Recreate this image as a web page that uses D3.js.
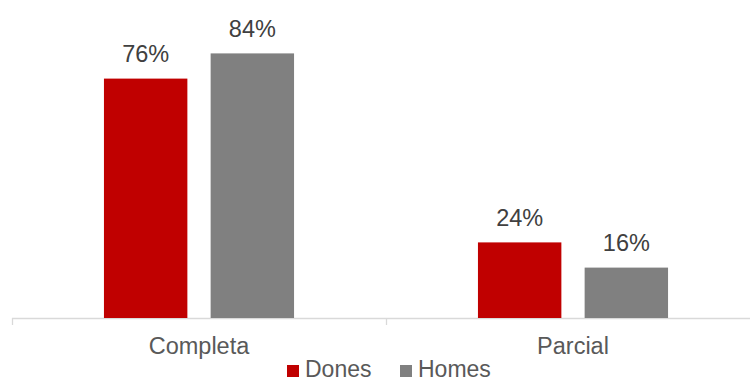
<!DOCTYPE html>
<html>
<head>
<meta charset="utf-8">
<script src="https://cdn.jsdelivr.net/npm/d3@7/dist/d3.min.js"></script>
<style>
  html, body { margin: 0; padding: 0; background: #ffffff; }
  svg { display: block; font-family: "Liberation Sans", Arial, sans-serif; }
</style>
</head>
<body>
<svg id="chart" width="750" height="382"></svg>
<script>
// Chart data
const categories = ["Completa", "Parcial"];
const seriesNames = ["Dones", "Homes"];
const dones = [76, 24];
const homes = [84, 16];
const seriesColors = ["#c00000", "#808080"];

const svg = d3.select("#chart");

// Plot geometry
const plotLeft = 12, plotRight = 760;
const baseline = 318, plotTop = 3;

const x0 = d3.scaleBand()
  .domain(categories)
  .range([plotLeft, plotRight])
  .paddingInner(0)
  .paddingOuter(0);

const x1 = d3.scaleBand()
  .domain(seriesNames)
  .range([0, x0.bandwidth()])
  .paddingInner(0.218)
  .paddingOuter(0.862);

const y = d3.scaleLinear().domain([0, 100]).range([baseline, plotTop]);

const rows = categories.map((c, i) => ({
  category: c,
  values: [
    { series: "Dones", value: dones[i] },
    { series: "Homes", value: homes[i] }
  ]
}));

// Category axis line with tick marks between categories
const axisG = svg.append("g").attr("transform", `translate(0,${baseline})`);
axisG.append("line")
  .attr("x1", plotLeft).attr("x2", plotRight)
  .attr("y1", 0.5).attr("y2", 0.5)
  .attr("stroke", "#d9d9d9").attr("stroke-width", 1.3);
const boundaries = [plotLeft, ...categories.map(c => x0(c) + x0.bandwidth())];
axisG.selectAll("line.tk").data(boundaries).join("line")
  .attr("class", "tk")
  .attr("x1", d => Math.round(d) + 0.5).attr("x2", d => Math.round(d) + 0.5)
  .attr("y1", 0).attr("y2", 7)
  .attr("stroke", "#d9d9d9").attr("stroke-width", 1.3);

// Bars
const groups = svg.selectAll("g.cat").data(rows).join("g")
  .attr("class", "cat")
  .attr("transform", d => `translate(${x0(d.category)},0)`);

groups.selectAll("rect").data(d => d.values).join("rect")
  .attr("x", d => x1(d.series))
  .attr("width", x1.bandwidth())
  .attr("y", d => y(d.value))
  .attr("height", d => baseline - y(d.value))
  .attr("fill", (d, i) => seriesColors[i]);

// Value labels
groups.selectAll("text.val").data(d => d.values).join("text")
  .attr("class", "val")
  .attr("x", d => x1(d.series) + x1.bandwidth() / 2)
  .attr("y", d => y(d.value) - 16.5)
  .attr("text-anchor", "middle")
  .attr("font-size", 23.5)
  .attr("fill", "#404040")
  .text(d => d.value + "%");

// Category labels
svg.selectAll("text.catlabel").data(categories).join("text")
  .attr("class", "catlabel")
  .attr("x", d => x0(d) + x0.bandwidth() / 2)
  .attr("y", 354)
  .attr("text-anchor", "middle")
  .attr("font-size", 23.5)
  .attr("fill", "#595959")
  .text(d => d);

// Legend
const legendItems = [
  { name: seriesNames[0], color: seriesColors[0], x: 287 },
  { name: seriesNames[1], color: seriesColors[1], x: 400 }
];
const lg = svg.append("g");
lg.selectAll("rect").data(legendItems).join("rect")
  .attr("x", d => d.x).attr("y", 365)
  .attr("width", 12).attr("height", 12)
  .attr("fill", d => d.color);
lg.selectAll("text").data(legendItems).join("text")
  .attr("x", d => d.x + 18).attr("y", 377)
  .attr("font-size", 23)
  .attr("fill", "#595959")
  .text(d => d.name);
</script>
</body>
</html>
